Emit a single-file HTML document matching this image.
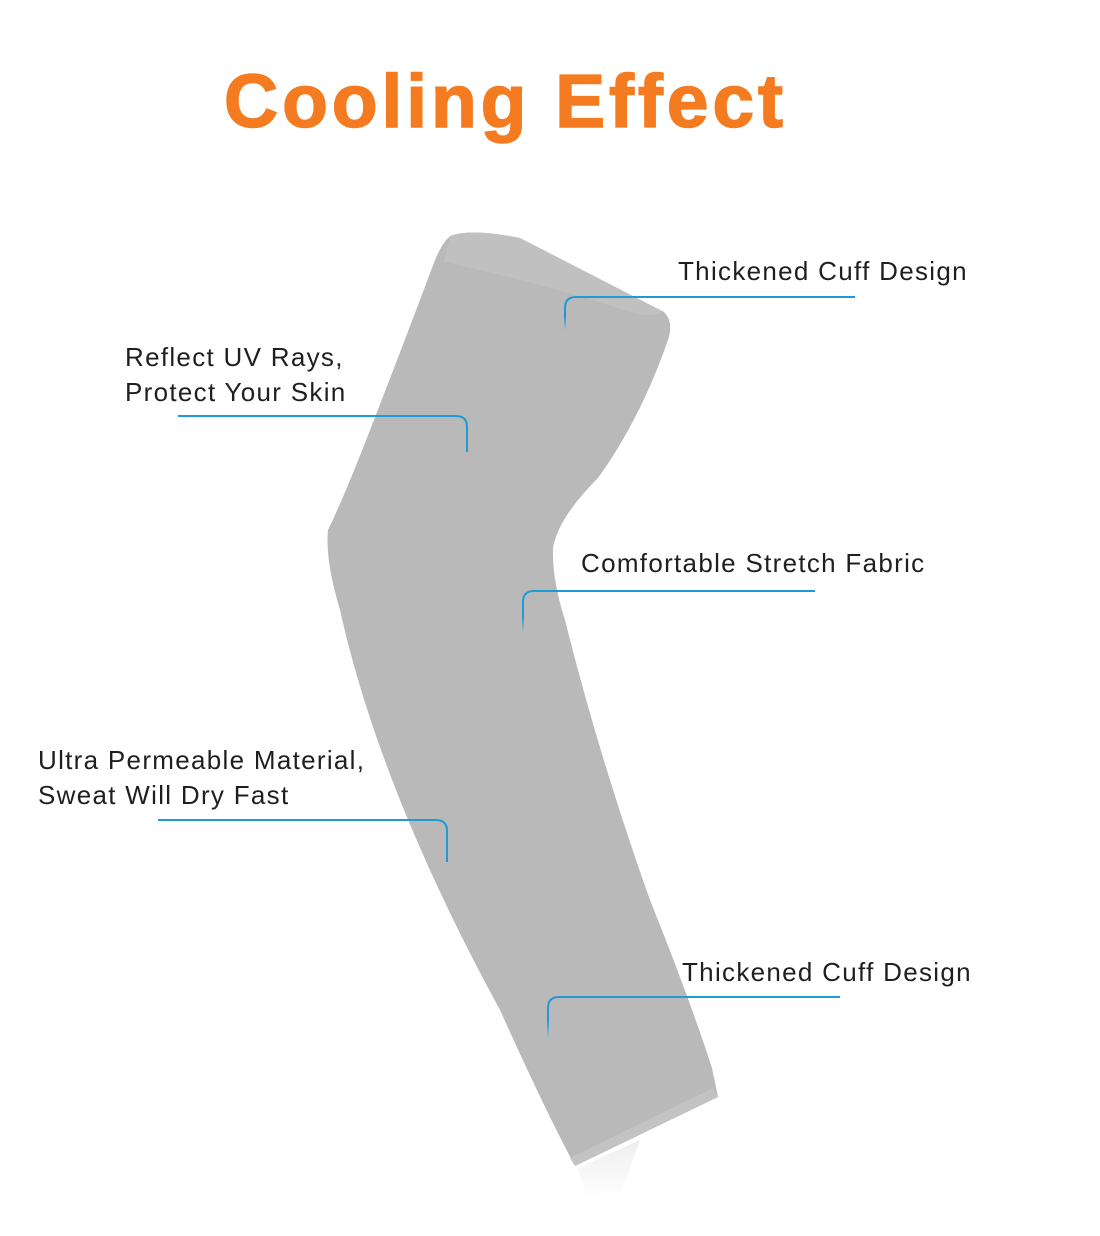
<!DOCTYPE html>
<html><head><meta charset="utf-8"><style>
html,body{margin:0;padding:0;background:#fff;}
body{width:1100px;height:1236px;position:relative;overflow:hidden;font-family:"Liberation Sans",Arial,sans-serif;}
.t{position:absolute;font-size:26px;color:#1f1f1f;line-height:35px;white-space:nowrap;letter-spacing:1.3px;}
h1{position:absolute;left:224px;top:58px;margin:0;font-size:75px;font-weight:bold;color:#f47b20;letter-spacing:3.9px;white-space:nowrap;-webkit-text-stroke:1.5px #f47b20;}
</style></head><body>
<svg width="1100" height="1236" style="position:absolute;left:0;top:0">
<defs>
<linearGradient id="fade" x1="0" y1="0" x2="0" y2="1">
<stop offset="0" stop-color="#1e9ad6"/><stop offset="0.6" stop-color="#1e9ad6"/><stop offset="1" stop-color="#1e9ad6" stop-opacity="0"/>
</linearGradient>
<linearGradient id="refl" x1="0" y1="0" x2="0" y2="1">
<stop offset="0" stop-color="#e2e2e2"/><stop offset="1" stop-color="#fff"/>
</linearGradient>
</defs>
<path d="M578,1168 L640,1140 L620,1195 L585,1198 Z" fill="url(#refl)" opacity="0.6"/>
<path d="M450,236 Q470,228 520,238 L664,312 Q674,322 668,340 Q640,420 598,478 Q558,518 553,548 Q552,580 565,620 Q600,760 650,900 Q690,1000 712,1068 L718,1097 L575,1166 Q545,1110 500,1010 Q440,900 400,800 Q360,700 340,610 Q325,560 328,530 Q345,495 372,425 Q405,340 432,268 Q440,245 450,236 Z" fill="#b9b9b9"/>
<path d="M450,236 Q470,228 520,238 L664,312 Q650,318 630,312 Q550,285 444,262 Z" fill="#c0c0c0"/>
<path d="M570,1158 L713,1088 L718,1097 L575,1166 Z" fill="#c3c3c3"/>
<g fill="none" stroke-width="2">
<path d="M565,330 L565,308 Q565,297 576,297 L855,297" stroke="url(#fade)"/>
<path d="M178,416 L456,416 Q467,416 467,427 L467,452" stroke="#1e9ad6"/>
<path d="M523,632 L523,602 Q523,591 534,591 L815,591" stroke="url(#fade)"/>
<path d="M158,820 L436,820 Q447,820 447,831 L447,862" stroke="#1e9ad6"/>
<path d="M548,1038 L548,1008 Q548,997 559,997 L840,997" stroke="url(#fade)"/>
</g>
</svg>
<h1>Cooling Effect</h1>
<div class="t" style="left:678px;top:254px">Thickened Cuff Design</div>
<div class="t" style="left:125px;top:340px">Reflect UV Rays,<br>Protect Your Skin</div>
<div class="t" style="left:581px;top:546px">Comfortable Stretch Fabric</div>
<div class="t" style="left:38px;top:743px">Ultra Permeable Material,<br>Sweat Will Dry Fast</div>
<div class="t" style="left:682px;top:955px">Thickened Cuff Design</div>
</body></html>
